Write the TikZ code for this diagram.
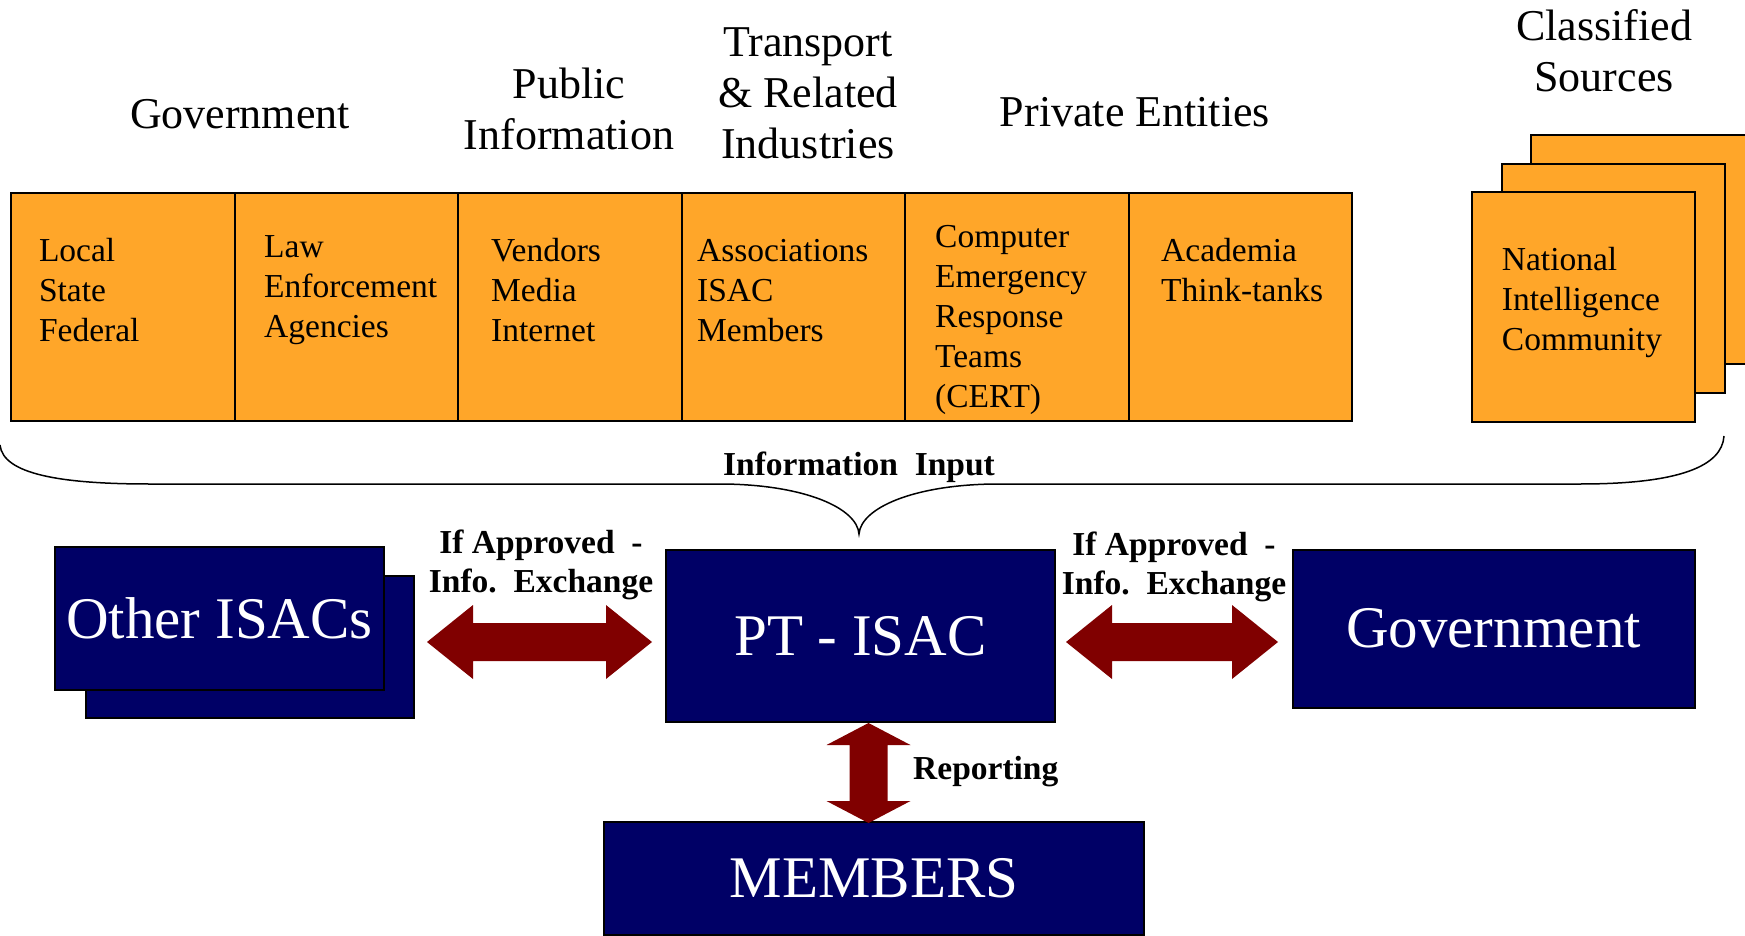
\documentclass[tikz,border=0pt]{standalone}
\usepackage{fontspec}
\setmainfont{Liberation Serif}
\usetikzlibrary{calc}
\definecolor{orng}{RGB}{255,166,41}
\definecolor{navyb}{RGB}{0,0,102}
\definecolor{maroonr}{RGB}{128,0,0}
\begin{document}
\begin{tikzpicture}[x=1pt,y=-1pt,
  cell/.style={draw=black, line width=2pt, fill=orng, minimum width=223.5pt, minimum height=227.5pt, inner sep=0pt, anchor=north west},
  clsbox/.style={draw=black, line width=2pt, fill=orng, minimum width=223.5pt, minimum height=229pt, inner sep=0pt, anchor=north west},
  celltext/.style={anchor=base west, align=left, inner sep=0pt, font=\fontsize{33.5}{40}\selectfont},
  header/.style={anchor=base, align=center, inner sep=0pt, font=\fontsize{44}{51}\selectfont},
  bluebox/.style={draw=black, line width=2pt, fill=navyb, text=white, inner sep=0pt, anchor=north west, font=\fontsize{59}{66}\selectfont},
  blabel/.style={anchor=base, align=center, inner sep=0pt, font=\fontsize{33.5}{39}\selectfont\bfseries},
  brace/.style={draw=black, line width=1.5pt},
  arrowfill/.style={fill=maroonr}
]
\clip (0,0) rectangle (1745,936);
\useasboundingbox (0,0) rectangle (1745,936);

% headers (anchor = baseline of last line)
\node[header] (hgov) at (240,129) {Government};
\node[header] (hpub) at (569,150) {Public\\Information};
\node[header] (htra) at (808,159) {Transport\\\& Related\\Industries};
\node[header] (hpri) at (1135,127) {Private Entities};
\node[header] (hcls) at (1604,92) {Classified\\Sources};

% orange cells
\node[cell] (c1) at (10,192) {};
\node[cell] (c2) at (233.5,192) {};
\node[cell] (c3) at (457,192) {};
\node[cell] (c4) at (680.5,192) {};
\node[cell] (c5) at (904,192) {};
\node[cell] (c6) at (1127.5,192) {};
\node[celltext] (t1) at (38.8,341) {Local\\State\\Federal};
\node[celltext] (t2) at (264,337) {Law\\Enforcement\\Agencies};
\node[celltext] (t3) at (491,341) {Vendors\\Media\\Internet};
\node[celltext] (t4) at (697,341) {Associations\\ISAC\\Members};
\node[celltext] (t5) at (935,407) {Computer\\Emergency\\Response\\Teams\\(CERT)};
\node[celltext] (t6) at (1161,301) {Academia\\Think-tanks};

% classified stack
\node[clsbox] (k3) at (1530,134) {};
\node[clsbox] (k2) at (1500.7,162.7) {};
\node[clsbox] (k1) at (1470.7,191.5) {};
\node[celltext] (t7) at (1501.7,350) {National\\Intelligence\\Community};

% brace
\draw[brace] (0,445) .. controls (3,474) and (60,484) .. (150,484) -- (724,484)
  .. controls (805,485) and (857,508) .. (859,534)
  .. controls (861,508) and (913,485) .. (994,484) -- (1580,484)
  .. controls (1680,484) and (1722,466) .. (1724,436);
\node[blabel] (info) at (859,475) {Information~~Input};

% blue boxes
\node[bluebox, minimum width=328.5pt, minimum height=142.5pt] (oisacB) at (84.5,574.5) {};
\node[bluebox, minimum width=329pt, minimum height=142.5pt] (oisac) at (54,546) {Other ISACs};
\node[bluebox, minimum width=389pt, minimum height=172pt] (pt) at (665,549) {PT - ISAC};
\node[bluebox, minimum width=402pt, minimum height=158pt] (gov) at (1291.5,548.5) {Government};
\node[bluebox, minimum width=540pt, minimum height=113.5pt] (mem) at (603,820.5) {MEMBERS};

% labels
\node[blabel] (lblL) at (541,592) {If Approved~~-\\Info.~~Exchange};
\node[blabel] (lblR) at (1174,594) {If Approved~~-\\Info.~~Exchange};
\node[blabel, anchor=base west] (rep) at (913,779) {Reporting};

% arrows
\coordinate (a1) at (427,642);
\coordinate (a2) at (652,642);
\coordinate (b1) at (1066,642);
\coordinate (b2) at (1278,642);
\coordinate (v1) at ($(pt.south)+(8,0)$);
\coordinate (v2) at ($(pt.south)+(8,0) + (0,100)$);
\fill[arrowfill] (a1) -- ++(46,-37) -- ++(0,18) -- ($(a2)+(-46,-19)$) -- ++(0,-18) -- (a2)
  -- ++(-46,37) -- ++(0,-18) -- ($(a1)+(46,19)$) -- ++(0,18) -- cycle;
\fill[arrowfill] (b1) -- ++(46,-37) -- ++(0,18) -- ($(b2)+(-46,-19)$) -- ++(0,-18) -- (b2)
  -- ++(-46,37) -- ++(0,-18) -- ($(b1)+(46,19)$) -- ++(0,18) -- cycle;
\fill[arrowfill] (v1) -- ++(42,22) -- ++(-23,0) -- ($(v2)+(19,-22)$) -- ++(23,0) -- (v2)
  -- ++(-42,-22) -- ++(23,0) -- ($(v1)+(-19,22)$) -- ++(-23,0) -- cycle;
\end{tikzpicture}
\end{document}
